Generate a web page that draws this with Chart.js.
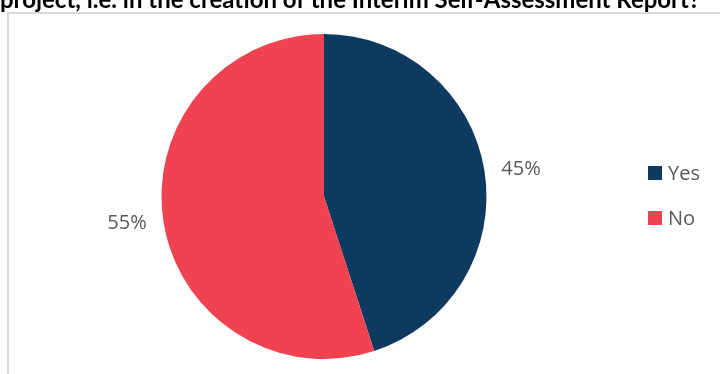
<!DOCTYPE html>
<html>
<head>
<meta charset="utf-8">
<script src="https://cdn.jsdelivr.net/npm/chart.js@4/dist/chart.umd.min.js"></script>
<style>
  html, body { margin: 0; padding: 0; background: #fff; overflow: hidden; }
  #wrap { position: relative; width: 720px; height: 374px; }
</style>
</head>
<body>
<div id="wrap"><canvas id="pie" width="720" height="374"></canvas></div>
<script>
const title = "project, i.e. in the creation of the Interim Self-Assessment Report?";
const answers = ["Yes", "No"];
const shares = [45, 55];
const sliceColors = ["#0f3a5f", "#f04352"];

// frame, clipped title, percentage labels and legend
const decorations = {
  id: "decorations",
  beforeDraw(chart) {
    const ctx = chart.ctx;
    ctx.save();
    ctx.strokeStyle = "#d9d9d9";
    ctx.lineWidth = 2;
    ctx.strokeRect(8, 13, 800, 400);
    ctx.fillStyle = "#000";
    ctx.font = "bold 24px Lato";
    ctx.textBaseline = "alphabetic";
    ctx.textAlign = "left";
    ctx.fillText(title, 0, 8, 700);
    ctx.restore();
  },
  afterDraw(chart) {
    const ctx = chart.ctx;
    const arcs = chart.getDatasetMeta(0).data;
    ctx.save();
    ctx.font = "20px 'Open Sans'";
    ctx.fillStyle = "#595959";
    ctx.textAlign = "center";
    ctx.textBaseline = "middle";
    arcs.forEach((arc, i) => {
      const mid = (arc.startAngle + arc.endAngle) / 2;
      const r = arc.outerRadius + 37;
      ctx.fillText(shares[i] + "%", arc.x + Math.cos(mid) * r, arc.y + Math.sin(mid) * r * 0.86);
    });
    ctx.textAlign = "left";
    answers.forEach((name, i) => {
      const y = 173 + i * 45;
      ctx.fillStyle = sliceColors[i];
      ctx.fillRect(648, y - 7, 14, 14);
      ctx.fillStyle = "#595959";
      ctx.fillText(name, 668, y + 1);
    });
    ctx.restore();
  }
};

new Chart(document.getElementById("pie"), {
  type: "pie",
  data: {
    labels: answers,
    datasets: [{
      data: shares,
      backgroundColor: sliceColors,
      borderWidth: 0
    }]
  },
  options: {
    responsive: false,
    animation: false,
    layout: { padding: { left: 161.5, right: 233.5, top: 34, bottom: 15 } },
    plugins: {
      legend: { display: false },
      tooltip: { enabled: false }
    }
  },
  plugins: [decorations]
});
</script>
</body>
</html>
